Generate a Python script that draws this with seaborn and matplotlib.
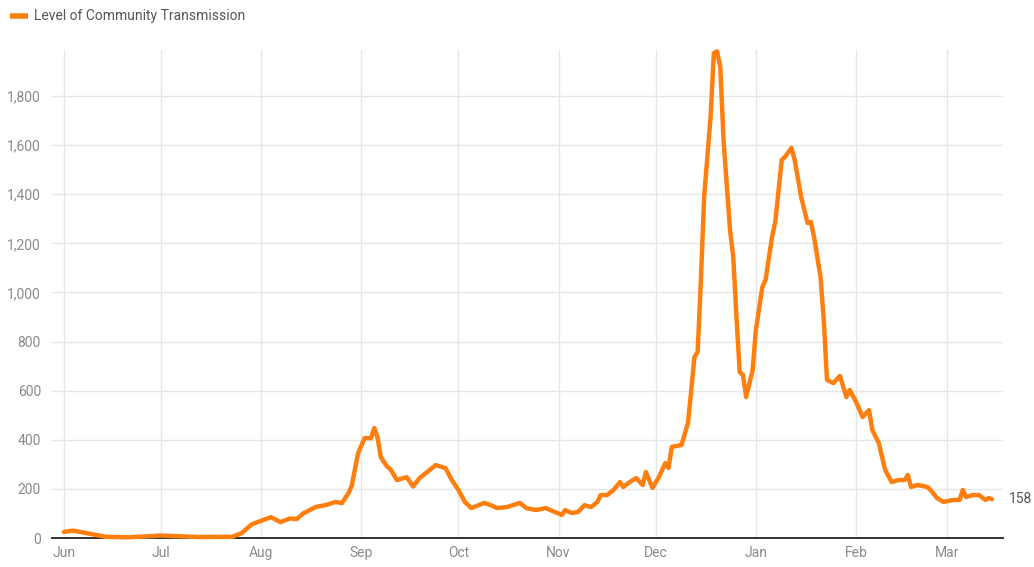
import matplotlib
matplotlib.use("Agg")
import matplotlib.pyplot as plt
from matplotlib.ticker import FuncFormatter
import seaborn as sns
import pandas as pd

# ---- data ----
dates = [
    "2020-06-01", "2020-06-04", "2020-06-10", "2020-06-14", "2020-06-21", "2020-07-01",
    "2020-07-13", "2020-07-23", "2020-07-26", "2020-07-29", "2020-08-01", "2020-08-04",
    "2020-08-07", "2020-08-10", "2020-08-12", "2020-08-14", "2020-08-18", "2020-08-21",
    "2020-08-24", "2020-08-26", "2020-08-28", "2020-08-29", "2020-08-31", "2020-09-02",
    "2020-09-04", "2020-09-05", "2020-09-06", "2020-09-07", "2020-09-09", "2020-09-10",
    "2020-09-12", "2020-09-15", "2020-09-17", "2020-09-19", "2020-09-21", "2020-09-24",
    "2020-09-27", "2020-09-29", "2020-10-01", "2020-10-03", "2020-10-05", "2020-10-09",
    "2020-10-11", "2020-10-13", "2020-10-16", "2020-10-20", "2020-10-22", "2020-10-25",
    "2020-10-28", "2020-11-02", "2020-11-03", "2020-11-05", "2020-11-07", "2020-11-09",
    "2020-11-11", "2020-11-13", "2020-11-14", "2020-11-16", "2020-11-18", "2020-11-20",
    "2020-11-21", "2020-11-23", "2020-11-25", "2020-11-27", "2020-11-28", "2020-11-30",
    "2020-12-02", "2020-12-04", "2020-12-05", "2020-12-06", "2020-12-09", "2020-12-11",
    "2020-12-12", "2020-12-13", "2020-12-14", "2020-12-15", "2020-12-16", "2020-12-18",
    "2020-12-19", "2020-12-20", "2020-12-21", "2020-12-22", "2020-12-24", "2020-12-25",
    "2020-12-26", "2020-12-27", "2020-12-28", "2020-12-29", "2020-12-31", "2021-01-01",
    "2021-01-03", "2021-01-04", "2021-01-06", "2021-01-07", "2021-01-09", "2021-01-10",
    "2021-01-12", "2021-01-13", "2021-01-15", "2021-01-17", "2021-01-18", "2021-01-19",
    "2021-01-21", "2021-01-22", "2021-01-23", "2021-01-25", "2021-01-27", "2021-01-29",
    "2021-01-30", "2021-02-01", "2021-02-03", "2021-02-05", "2021-02-06", "2021-02-08",
    "2021-02-10", "2021-02-12", "2021-02-14", "2021-02-16", "2021-02-17", "2021-02-18",
    "2021-02-20", "2021-02-23", "2021-02-24", "2021-02-26", "2021-02-28", "2021-03-03",
    "2021-03-05", "2021-03-06", "2021-03-07", "2021-03-09", "2021-03-11", "2021-03-13",
    "2021-03-14", "2021-03-15",
]
values = [
    25, 30, 15, 5, 3, 10,
    4, 5, 20, 55, 70, 85,
    65, 80, 77, 100, 127, 134,
    147, 142, 183, 212, 346, 407,
    407, 448, 410, 330, 290, 280,
    236, 248, 210, 244, 265, 297,
    285, 236, 196, 147, 122, 143,
    134, 122, 126, 143, 122, 114,
    122, 94, 114, 102, 106, 134,
    126, 147, 175, 175, 196, 228,
    208, 228, 244, 216, 269, 204,
    248, 305, 285, 371, 379, 468,
    600, 737, 758, 1051, 1389, 1715,
    1975, 1982, 1918, 1621, 1255, 1145,
    900, 676, 664, 574, 684, 847,
    1022, 1051, 1226, 1287, 1540, 1552,
    1589, 1540, 1389, 1283, 1287, 1226,
    1063, 888, 644, 631, 660, 574,
    603, 554, 493, 521, 440, 387,
    277, 228, 236, 236, 257, 208,
    216, 208, 196, 163, 147, 155,
    155, 196, 167, 175, 175, 155,
    163, 158,
]
series_name = "Level of Community Transmission"
month_ticks = ["2020-06-01", "2020-07-01", "2020-08-01", "2020-09-01", "2020-10-01",
               "2020-11-01", "2020-12-01", "2021-01-01", "2021-02-01", "2021-03-01"]
month_labels = ["Jun", "Jul", "Aug", "Sep", "Oct", "Nov", "Dec", "Jan", "Feb", "Mar"]
y_ticks = [0, 200, 400, 600, 800, 1000, 1200, 1400, 1600, 1800]
end_label = "158"

# ---- plotting ----
sns.set_style("white")
plt.rcParams["font.family"] = ["Roboto", "DejaVu Sans"]

df = pd.DataFrame({"date": pd.to_datetime(dates), "value": values})

fig = plt.figure(figsize=(10.34, 5.67), dpi=100)
ax = fig.add_axes([0.0503, 0.0511, 0.9197, 0.8609])

orange = "#ff7f0e"
sns.lineplot(data=df, x="date", y="value", ax=ax, color=orange, linewidth=3.2,
             solid_joinstyle="round", solid_capstyle="round", clip_on=False, zorder=3)

ax.set_xlim(pd.Timestamp("2020-05-28 08:00"), pd.Timestamp("2021-03-18 10:00"))
ax.set_ylim(0, 1988)

tick_dates = pd.to_datetime(month_ticks)
ax.set_xticks(tick_dates)
ax.set_xticklabels(month_labels)
ax.set_yticks(y_ticks)
ax.yaxis.set_major_formatter(FuncFormatter(lambda v, p: f"{int(v):,}"))

ax.grid(True, color="#e6e6e6", linewidth=1.0)
ax.set_axisbelow(True)
for s in ["top", "right", "left"]:
    ax.spines[s].set_visible(False)
ax.spines["bottom"].set_color("#222222")
ax.spines["bottom"].set_linewidth(1.3)
ax.tick_params(axis="both", length=0, labelsize=10, colors="#8a8a8a")
ax.tick_params(axis="y", pad=8)
ax.tick_params(axis="x", pad=6)
ax.set_xlabel("")
ax.set_ylabel("")

# end label
ax.annotate(end_label, xy=(df["date"].iloc[-1], values[-1]), xytext=(12, 0),
            textcoords="offset points", va="center", ha="left",
            fontsize=10, color="#555555")

# legend (top-left)
fig.lines.append(plt.Line2D([10 / 1034, 28 / 1034], [1 - 16 / 567, 1 - 16 / 567],
                            transform=fig.transFigure, color=orange, linewidth=4,
                            solid_capstyle="butt"))
fig.text(34 / 1034, 1 - 16 / 567, series_name, fontsize=10, color="#555555",
         va="center", ha="left")

fig.savefig("out.png", dpi=100)
